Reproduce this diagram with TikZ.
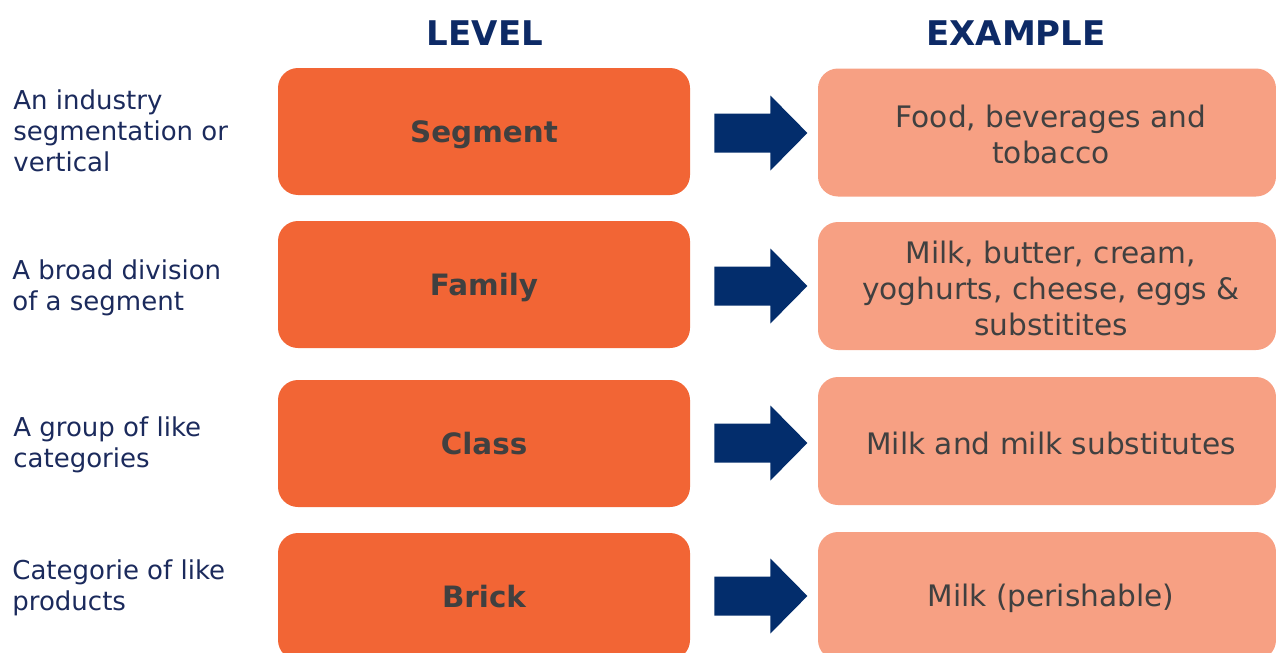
\documentclass[tikz,border=0pt]{standalone}
\usepackage{fontspec}
\setmainfont{DejaVu Sans}
\definecolor{navy}{HTML}{0D2A66}
\definecolor{arrowblue}{HTML}{032D6C}
\definecolor{orangebox}{HTML}{F26535}
\definecolor{salmonbox}{HTML}{F7A083}
\definecolor{boxtext}{HTML}{404040}
\definecolor{desctext}{HTML}{1B2A5C}
\begin{document}
\begin{tikzpicture}[x=0.5pt,y=-0.5pt,
  levelbox/.style={fill=orangebox, rounded corners=10pt, minimum width=206pt, minimum height=63.5pt, inner sep=0pt, text depth=0pt, font=\fontsize{14.7}{17}\selectfont\bfseries, text=boxtext},
  examplebox/.style={fill=salmonbox, rounded corners=10pt, minimum width=229pt, minimum height=64pt, inner sep=0pt},
  exampletext/.style={align=center, inner sep=0pt, font=\fontsize{14.8}{18}\selectfont, text=boxtext},
  desc/.style={anchor=west, align=left, font=\fontsize{13}{15.5}\selectfont, text=desctext, inner sep=0pt},
  header/.style={font=\fontsize{17}{20}\selectfont\bfseries, text=navy},
  bigarrow/.style={fill=arrowblue}]
\clip (0,0) rectangle (1276,653);
\node[header] (hlevel) at (485,33) {LEVEL};
\node[header] (hexample) at (1016,33) {EXAMPLE};
% level boxes
\node[levelbox] (l1) at (484,131.5) {Segment};
\node[levelbox] (l2) at (484,284.5) {Family};
\node[levelbox, yshift=-1pt] (l3) at (484,441.5) {Class};
\node[levelbox, yshift=-1pt] (l4) at (484,594.5) {Brick};
% example boxes
\node[examplebox] (e1) at (1047,132.5) {};
\node[examplebox] (e2) at (1047,286) {};
\node[examplebox] (e3) at (1047,441) {};
\node[examplebox] (e4) at (1047,596) {};
\node[exampletext] (t1) at ([xshift=2pt,yshift=-1pt]e1.center) {Food, beverages and\\tobacco};
\node[exampletext] (t2) at ([xshift=2pt,yshift=-1pt]e2.center) {Milk, butter, cream,\\yoghurts, cheese, eggs \&\\substitites};
\node[exampletext] (t3) at ([xshift=2pt,yshift=-1pt]e3.center) {Milk and milk substitutes};
\node[exampletext] (t4) at ([xshift=2pt,yshift=-1pt]e4.center) {Milk (perishable)};
% descriptions
\node[desc] (d1) at (13,131) {An industry\\segmentation or\\vertical};
\node[desc] (d2) at (12,287.5) {A broad division\\of a segment};
\node[desc] (d3) at (13,445) {A group of like\\categories};
\node[desc] (d4) at (12,587.5) {Categorie of like\\products};
% arrows
\foreach \i in {1,2}{
  \fill[bigarrow, shift={(l\i.east)}] (24,-18) -- (80,-18) -- (80,-36) -- (117,1.5) -- (80,39) -- (80,21) -- (24,21) -- cycle;
}
\foreach \i in {3,4}{
  \fill[bigarrow, shift={(l\i.east)}] (24,-20) -- (80,-20) -- (80,-38) -- (117,-0.5) -- (80,37) -- (80,19) -- (24,19) -- cycle;
}
\end{tikzpicture}
\end{document}
